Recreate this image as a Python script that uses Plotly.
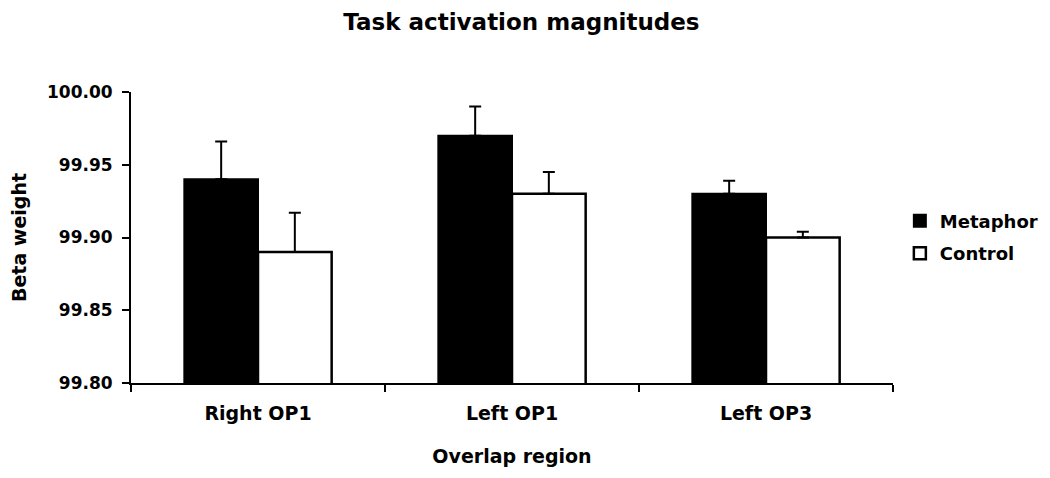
import plotly.graph_objects as go

# Task activation magnitudes per overlap region
regions = ['Right OP1', 'Left OP1', 'Left OP3']
metaphor = [99.94, 99.97, 99.93]
metaphor_err = [0.026, 0.020, 0.009]
control = [99.89, 99.93, 99.90]
control_err = [0.027, 0.015, 0.004]

font_family = 'DejaVu Sans, Verdana, sans-serif'

fig = go.Figure()

fig.add_trace(go.Bar(
    x=regions,
    y=metaphor,
    name='Metaphor',
    legendgroup='m',
    marker=dict(color='black', line=dict(color='black', width=2)),
    error_y=dict(type='data', array=metaphor_err, arrayminus=[0] * 3,
                 symmetric=False, color='black', thickness=2, width=6)
))

fig.add_trace(go.Bar(
    x=regions,
    y=control,
    name='Control',
    legendgroup='c',
    marker=dict(color='white', line=dict(color='black', width=2.5)),
    error_y=dict(type='data', array=control_err, arrayminus=[0] * 3,
                 symmetric=False, color='black', thickness=2, width=6)
))

# the page body adds an 8px offset, margins are trimmed to match
fig.update_layout(
    width=1050,
    height=478,
    barmode='group',
    bargap=0.42,
    bargroupgap=0,
    plot_bgcolor='white',
    paper_bgcolor='white',
    font=dict(family=font_family, color='black', size=18, weight='bold'),
    title=dict(text='Task activation magnitudes', x=0.489, xanchor='center',
               y=0.97, yanchor='middle',
               font=dict(size=23, weight='bold')),
    margin=dict(l=123, r=165, t=84, b=103, autoexpand=False),
    legend=dict(x=1.009, xanchor='left', y=0.62, yanchor='top',
                font=dict(size=18, weight='bold'), tracegroupgap=6),
)

fig.update_yaxes(
    range=[99.80, 100.00],
    dtick=0.05,
    tickformat='.2f',
    showgrid=False,
    zeroline=False,
    showline=True,
    linecolor='black',
    linewidth=2,
    ticks='outside',
    ticklen=7,
    tickwidth=2,
    tickcolor='black',
    ticklabelstandoff=6,
    automargin=False,
    tickfont=dict(size=17, weight='bold'),
    title=dict(text='Beta weight', font=dict(size=19, weight='bold'), standoff=18),
)

fig.update_xaxes(
    showgrid=False,
    showline=True,
    linecolor='black',
    linewidth=2,
    ticks='outside',
    tickson='boundaries',
    ticklen=7,
    tickwidth=2,
    tickcolor='black',
    ticklabelstandoff=12,
    automargin=False,
    tickfont=dict(size=19, weight='bold'),
    title=dict(text='Overlap region', font=dict(size=19, weight='bold'), standoff=27),
)

fig.write_html("out.html")
